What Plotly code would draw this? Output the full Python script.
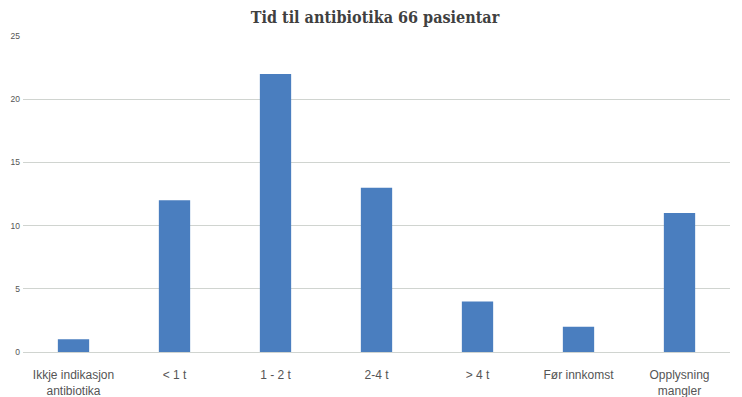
import plotly.graph_objects as go

categories = ["Ikkje indikasjon<br>antibiotika", "< 1 t", "1 - 2 t", "2-4 t", "> 4 t", "Før innkomst", "Opplysning<br>mangler"]
values = [1, 12, 22, 13, 4, 2, 11]
y_ticks = [0, 5, 10, 15, 20, 25]

fig = go.Figure(go.Bar(x=categories, y=values, marker_color="#4A7EBF", marker_line_width=0, width=0.31))

fig.update_layout(
    width=734, height=389,
    margin=dict(l=15, r=12, t=28, b=45),
    paper_bgcolor="white", plot_bgcolor="white",
    title=dict(text="<b>Tid til antibiotika 66 pasientar</b>", x=0.5, xanchor="center", y=0.99, yanchor="top",
               font=dict(family="DejaVu Serif Condensed, DejaVu Serif", size=16, color="#404040")),
    showlegend=False,
    bargap=0.69,
)
fig.update_xaxes(showline=True, linecolor="#D0D4D0", linewidth=1, ticks="", showgrid=False, automargin=False,
                 ticklabelstandoff=12,
                 tickfont=dict(family="Liberation Sans Narrow, Liberation Sans", size=12, color="#555555"))
fig.update_yaxes(range=[0, 25], tickvals=y_ticks, showgrid=True, gridcolor="#D0D4D0", gridwidth=1,
                 zeroline=False, ticks="", ticklabelstandoff=2, automargin=False,
                 tickfont=dict(family="Liberation Sans Narrow, Liberation Sans", size=8.5, color="#555555"))

fig.write_html("out.html")
